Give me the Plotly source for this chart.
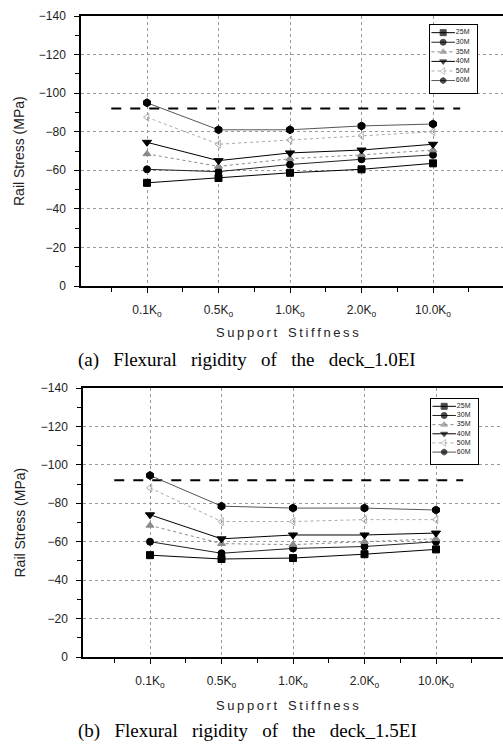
import plotly.graph_objects as go

# ---------------- data ----------------
categories = ["0.1K<sub>o</sub>", "0.5K<sub>o</sub>", "1.0K<sub>o</sub>", "2.0K<sub>o</sub>", "10.0K<sub>o</sub>"]
cat_idx = [0, 1, 2, 3, 4]
series_names = ["25M", "30M", "35M", "40M", "50M", "60M"]

# (a) 1.0EI
a_25 = [-53.5, -56.0, -58.7, -60.5, -63.6]
a_30 = [-60.5, -59.3, -63.0, -65.7, -68.0]
a_35 = [-68.5, -62.0, -66.0, -68.0, -70.5]
a_40 = [-74.5, -65.0, -69.0, -70.5, -73.5]
a_50 = [-87.5, -73.5, -75.7, -78.0, -80.0]
a_60 = [-95.0, -81.0, -81.0, -83.0, -84.0]

# (b) 1.5EI
b_25 = [-53.0, -51.0, -51.5, -53.5, -56.0]
b_30 = [-60.0, -54.0, -56.5, -57.5, -60.0]
b_35 = [-68.5, -59.0, -58.5, -60.0, -61.5]
b_40 = [-74.0, -61.5, -63.5, -63.5, -64.5]
b_50 = [-88.0, -70.5, -70.5, -71.5, -71.5]
b_60 = [-94.5, -78.5, -77.5, -77.5, -76.5]

limit_value = -92
limit_x = [-0.5, 4.38]

y_ticks = [-140, -120, -100, -80, -60, -40, -20, 0]

caption_words = [["(a)", "Flexural", "rigidity", "of", "the", "deck_1.0EI"],
                 ["(b)", "Flexural", "rigidity", "of", "the", "deck_1.5EI"]]
x_title = "Support Stiffness"
y_title = "Rail Stress (MPa)"

# ---------------- styles ----------------
styles = {
    "25M": dict(symbol="square", mcolor="black", lcolor="black", dash="solid", size=7),
    "30M": dict(symbol="circle", mcolor="black", lcolor="#222", dash="solid", size=7),
    "35M": dict(symbol="triangle-up", mcolor="#8a8a8a", lcolor="#8a8a8a", dash="dot", size=7),
    "40M": dict(symbol="triangle-down", mcolor="black", lcolor="black", dash="solid", size=8),
    "50M": dict(symbol="triangle-left-open", mcolor="#aaaaaa", lcolor="#aaaaaa", dash="dot", size=7),
    "60M": dict(symbol="hexagon", mcolor="black", lcolor="#555", dash="solid", size=8),
}

W, H = 503, 745
fig = go.Figure()
NB = "\u00a0"
TH = "\u2009"

def py(px):
    return 1 - px / H

def spaced(text):
    # widen letter spacing like the original figure
    words = text.split(" ")
    return (NB * 3).join(TH.join(list(w)) for w in words)

panels = [
    dict(data=[a_25, a_30, a_35, a_40, a_50, a_60], xa="x", ya="y",
         ydom=[py(286), py(16)], xdom=[81 / W, 1.0], xr=[-0.923, 4.979],
         leg_x=[430 / W, 477 / W], leg_y=[py(93), py(25)], lxa="x3", lya="y3",
         title_y=333, cap_y=360),
    dict(data=[b_25, b_30, b_35, b_40, b_50, b_60], xa="x2", ya="y2",
         ydom=[py(657), py(388)], xdom=[83 / W, 1.0], xr=[-0.937, 4.937],
         leg_x=[431 / W, 478 / W], leg_y=[py(464), py(399)], lxa="x4", lya="y4",
         title_y=705, cap_y=731),
]

for p_i, p in enumerate(panels):
    # limit line
    fig.add_trace(go.Scatter(x=limit_x, y=[limit_value, limit_value], mode="lines",
                             line=dict(color="black", width=2, dash="10px,9px"),
                             xaxis=p["xa"], yaxis=p["ya"], showlegend=False, hoverinfo="skip"))
    for name, vals in zip(series_names, p["data"]):
        s = styles[name]
        fig.add_trace(go.Scatter(
            x=cat_idx, y=vals, mode="lines+markers", name=name,
            line=dict(color=s["lcolor"], width=1, dash=s["dash"]),
            marker=dict(symbol=s["symbol"], color=s["mcolor"], size=s["size"],
                        line=dict(color=s["mcolor"], width=1)),
            xaxis=p["xa"], yaxis=p["ya"], showlegend=False))
    # custom legend
    for i, name in enumerate(series_names):
        s = styles[name]
        fig.add_trace(go.Scatter(
            x=[0.03, 0.28, 0.53], y=[i, i, i], mode="lines+markers",
            line=dict(color=s["lcolor"], width=1, dash=s["dash"]),
            marker=dict(symbol=s["symbol"], color=s["mcolor"], size=[0, 6, 0],
                        line=dict(color=s["mcolor"], width=1)),
            xaxis=p["lxa"], yaxis=p["lya"], showlegend=False, hoverinfo="skip"))
        fig.add_trace(go.Scatter(
            x=[0.55], y=[i], mode="text", text=[name], textposition="middle right",
            textfont=dict(size=7, color="#222", family="Liberation Sans"),
            xaxis=p["lxa"], yaxis=p["lya"], showlegend=False, hoverinfo="skip"))

    xkey = "xaxis" if p["xa"] == "x" else "xaxis2"
    ykey = "yaxis" if p["ya"] == "y" else "yaxis2"
    fig.layout[xkey] = dict(
        domain=p["xdom"], anchor=p["ya"], range=p["xr"], tickvals=cat_idx, automargin=False,
        ticktext=categories, showgrid=True, gridcolor="#9a9a9a", griddash="dot", gridwidth=1,
        zeroline=False, showline=True, linecolor="black", linewidth=1.5, mirror=True,
        ticks="outside", ticklen=5, tickwidth=1, tickcolor="black",
        minor=dict(tick0=0.5, dtick=1, ticks="outside", ticklen=4, tickcolor="black", showgrid=False),
        tickfont=dict(size=12, color="#222", family="Liberation Sans"),
        ticklabelstandoff=7, fixedrange=True)
    fig.layout[ykey] = dict(
        domain=p["ydom"], anchor=p["xa"], range=[0, -140], tickvals=y_ticks, automargin=False,
        showgrid=True, gridcolor="#9a9a9a", griddash="dot", gridwidth=1,
        zeroline=False, showline=True, linecolor="black", linewidth=1.5, mirror=False,
        ticks="outside", ticklen=5, tickwidth=1, tickcolor="black",
        minor=dict(tickvals=[-130, -110, -90, -70, -50, -30, -10], ticks="outside",
                   ticklen=4, tickcolor="black", showgrid=False),
        tickfont=dict(size=12, color="#222", family="Liberation Sans"),
        ticklabelstandoff=6, fixedrange=True)
    lx = "xaxis3" if p_i == 0 else "xaxis4"
    ly = "yaxis3" if p_i == 0 else "yaxis4"
    fig.layout[lx] = dict(domain=p["leg_x"], anchor=p["lya"], range=[0, 1], automargin=False,
                          showgrid=False, zeroline=False, showticklabels=False,
                          showline=True, mirror=True, linecolor="black", linewidth=1,
                          ticks="", fixedrange=True)
    fig.layout[ly] = dict(domain=p["leg_y"], anchor=p["lxa"], range=[6.3, -0.8], automargin=False,
                          showgrid=False, zeroline=False, showticklabels=False,
                          showline=True, mirror=True, linecolor="black", linewidth=1,
                          ticks="", fixedrange=True)

    # axis titles & caption
    mid_y = (p["ydom"][0] + p["ydom"][1]) / 2
    fig.add_annotation(text=y_title.replace(" ", NB), xref="paper", yref="paper",
                       x=19 / W, y=mid_y, textangle=-90, showarrow=False,
                       xanchor="center", yanchor="middle",
                       font=dict(size=14, color="#222", family="Liberation Sans"))
    fig.add_annotation(text=spaced(x_title), xref="paper", yref="paper",
                       x=287 / W, y=py(p["title_y"]), showarrow=False,
                       xanchor="center", yanchor="middle",
                       font=dict(size=13, color="#222", family="Liberation Sans"))
    fig.add_annotation(text=(NB * 3).join(caption_words[p_i]), xref="paper", yref="paper",
                       x=247 / W, y=py(p["cap_y"]), showarrow=False,
                       xanchor="center", yanchor="middle",
                       font=dict(size=19, color="black", family="Liberation Serif"))

fig.update_layout(width=W, height=H, margin=dict(l=0, r=0, t=0, b=0, autoexpand=False),
                  paper_bgcolor="white", plot_bgcolor="white", showlegend=False)

fig.write_html("out.html")
